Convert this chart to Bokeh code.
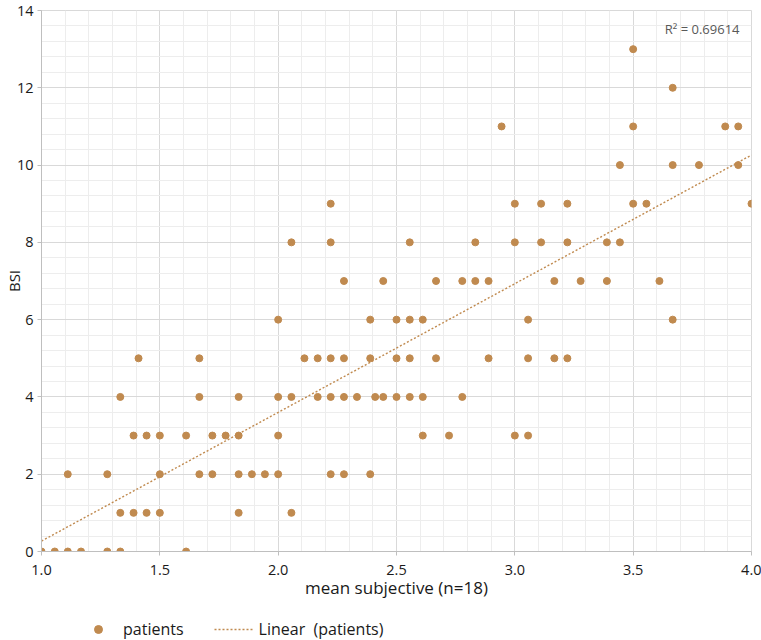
from bokeh.plotting import figure
from bokeh.layouts import column
from bokeh.models import (Range1d, SingleIntervalTicker, NumeralTickFormatter, Label,
                          Legend, LegendItem, ColumnDataSource)
from bokeh.embed import file_html
from bokeh.resources import INLINE

# ---- data ----
mean_subjective = [
    1.000, 1.056, 1.111, 1.167, 1.278, 1.333, 1.611,                      # BSI 0
    1.333, 1.389, 1.444, 1.500, 1.833, 2.056,                             # BSI 1
    1.111, 1.278, 1.500, 1.667, 1.722, 1.833, 1.889, 1.944, 2.000, 2.222, 2.278, 2.389,  # BSI 2
    1.389, 1.444, 1.500, 1.611, 1.722, 1.778, 1.833, 2.000, 2.611, 2.722, 3.000, 3.056,  # BSI 3
    1.333, 1.667, 1.833, 2.000, 2.056, 2.167, 2.222, 2.278, 2.333, 2.410, 2.444, 2.500,
    2.556, 2.611, 2.778,                                                  # BSI 4
    1.410, 1.667, 2.111, 2.167, 2.222, 2.278, 2.389, 2.500, 2.556, 2.667, 2.889, 3.056,
    3.167, 3.222,                                                         # BSI 5
    2.000, 2.389, 2.500, 2.556, 2.611, 3.056, 3.667,                      # BSI 6
    2.278, 2.444, 2.667, 2.778, 2.833, 2.889, 3.167, 3.278, 3.389, 3.611, # BSI 7
    2.056, 2.222, 2.556, 2.833, 3.000, 3.111, 3.222, 3.389, 3.444,        # BSI 8
    2.222, 3.000, 3.111, 3.222, 3.500, 3.556, 4.000,                      # BSI 9
    3.444, 3.667, 3.778, 3.944,                                           # BSI 10
    2.944, 3.500, 3.889, 3.944,                                           # BSI 11
    3.667,                                                                # BSI 12
    3.500,                                                                # BSI 13
]
bsi = ([0] * 7 + [1] * 6 + [2] * 12 + [3] * 12 + [4] * 15 + [5] * 14 + [6] * 7 +
       [7] * 10 + [8] * 9 + [9] * 7 + [10] * 4 + [11] * 4 + [12] + [13])

# linear trend line (Excel fit)
trend_x = [1.0, 4.0]
trend_y = [0.27, 10.26]

r2_text = "R\u00b2 = 0.69614"
x_label = "mean subjective (n=18)"
y_label = "BSI"
series_name = "patients"
trend_name = "Linear  (patients)"

x_min, x_max = 1.0, 4.0
y_min, y_max = 0, 14

# ---- styling ----
DOT = "#C08A4F"
FONT = "Open Sans"
MAJOR = "#d9d9d9"
MINOR = "#ededed"
TXT = "#1a1a1a"

p = figure(width=761, height=601, output_backend="svg", toolbar_location=None,
           x_range=Range1d(x_min, x_max), y_range=Range1d(y_min, y_max),
           min_border_left=0, min_border_right=10, min_border_top=10, min_border_bottom=0)
p.outline_line_color = MAJOR
p.background_fill_color = "white"
p.border_fill_color = "white"

p.xaxis.ticker = SingleIntervalTicker(interval=0.5, num_minor_ticks=5)
p.yaxis.ticker = SingleIntervalTicker(interval=2, num_minor_ticks=5)
p.xaxis.formatter = NumeralTickFormatter(format="0.0")

for ax in (p.xaxis, p.yaxis):
    ax.axis_line_color = "#bfbfbf"
    ax.major_tick_line_color = "#bfbfbf"
    ax.major_tick_out = 4
    ax.major_tick_in = 0
    ax.minor_tick_line_color = None
    ax.major_label_text_font = FONT
    ax.major_label_text_font_size = "14.5px"
    ax.major_label_text_color = TXT
    ax.axis_label_text_font = FONT
    ax.axis_label_text_font_style = "normal"
    ax.axis_label_text_color = TXT
p.xaxis.major_label_standoff = 9
p.yaxis.major_label_standoff = 4

p.xaxis.axis_label = x_label
p.xaxis.axis_label_text_font_size = "17px"
p.xaxis.axis_label_standoff = -2

p.yaxis.axis_label = y_label
p.yaxis.axis_label_text_font_size = "15px"
p.yaxis.axis_label_standoff = -10

for g in (p.xgrid, p.ygrid):
    g.grid_line_color = MAJOR
    g.minor_grid_line_color = MINOR

src = ColumnDataSource(dict(x=mean_subjective, y=bsi))
p.scatter("x", "y", source=src, size=7, color=DOT, line_color=DOT)
p.line(trend_x, trend_y, line_color=DOT, line_width=1.4, line_dash="2 2")

p.add_layout(Label(x=x_max, y=y_max, x_offset=-12, y_offset=-18, text=r2_text,
                   text_font=FONT, text_font_size="13px", text_color="#595959",
                   text_align="right", text_baseline="middle"))

# ---- legend strip below the chart (key glyphs only; their dummy data lies off range) ----
lg = figure(width=761, height=39, output_backend="svg", toolbar_location=None,
            x_axis_type=None, y_axis_type=None, x_range=Range1d(0, 1), y_range=Range1d(0, 1),
            min_border_left=0, min_border_right=0, min_border_top=0, min_border_bottom=0)
lg.outline_line_color = None
lg.xgrid.visible = False
lg.ygrid.visible = False
lg.background_fill_color = "white"
lg.border_fill_color = "white"
dots_key = lg.scatter(x=[-5], y=[-5], size=10, color=DOT, line_color=DOT)
line_key = lg.line(x=[-5, -4], y=[-5, -5], line_color=DOT, line_width=1.4, line_dash="2 2")

legend = Legend(items=[LegendItem(label=series_name, renderers=[dots_key]),
                       LegendItem(label=trend_name, renderers=[line_key])],
                orientation="horizontal", location=(37, 0),
                glyph_width=40, glyph_height=20, label_height=20, label_standoff=5, spacing=30,
                padding=0, margin=0, border_line_alpha=0, background_fill_alpha=0,
                label_text_font=FONT, label_text_font_size="16px", label_text_color=TXT)
lg.add_layout(legend)

layout = column(p, lg, spacing=0)
open("out.html", "w").write(file_html(layout, INLINE))
